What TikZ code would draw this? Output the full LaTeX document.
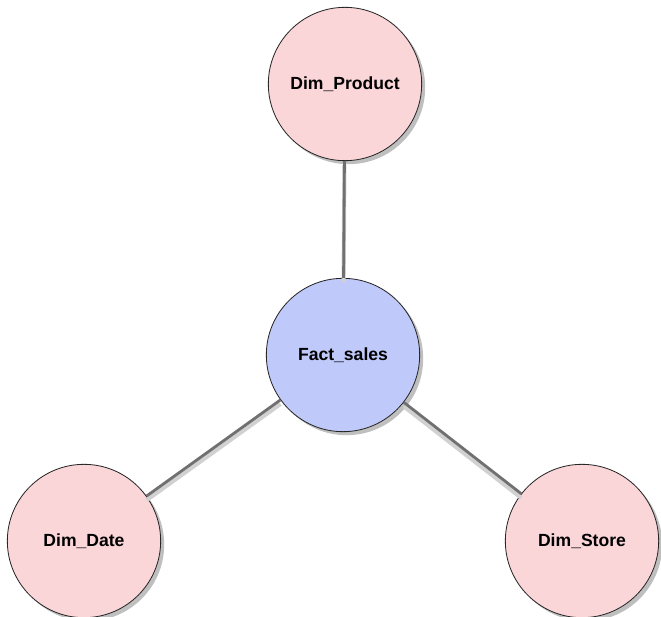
\documentclass[tikz,border=0pt]{standalone}
\usepackage{fontspec}
\setmainfont{Liberation Sans}
\usetikzlibrary{shadows}

\definecolor{dimpink}{RGB}{250,214,217}
\definecolor{factblue}{RGB}{192,202,250}
\definecolor{linkgray}{RGB}{112,112,112}

\tikzset{
    table/.style={circle, draw=black!85, line width=0.7pt, minimum size=4.6cm,
        inner sep=0pt, font=\bfseries\fontsize{15}{17}\selectfont,
        drop shadow={shadow xshift=3pt, shadow yshift=-3pt, fill=black, opacity=0.25}},
    dimtable/.style={table, fill=dimpink},
    facttable/.style={table, fill=factblue},
    link/.style={draw=linkgray, line width=2.4pt},
    linkshadow/.style={draw=black!18, line width=3.5pt, transform canvas={yshift=-3.5pt}}
}

\begin{document}
\begin{tikzpicture}[x=0.03cm, y=-0.03cm]
    \useasboundingbox (0,0) rectangle (661,617);
    % tables
    \node [facttable] (fact)    at (343,355) {Fact\_sales};
    \node [dimtable]  (product) at (345,84)  {Dim\_Product};
    \node [dimtable]  (date)    at (84,541)  {Dim\_Date};
    \node [dimtable]  (store)   at (582,541) {Dim\_Store};
    % links
    \draw [linkshadow] (fact) -- (product);
    \draw [linkshadow] (fact) -- (date);
    \draw [linkshadow] (fact) -- (store);
    \draw [link] (fact) -- (product);
    \draw [link] (fact) -- (date);
    \draw [link] (fact) -- (store);
\end{tikzpicture}
\end{document}
